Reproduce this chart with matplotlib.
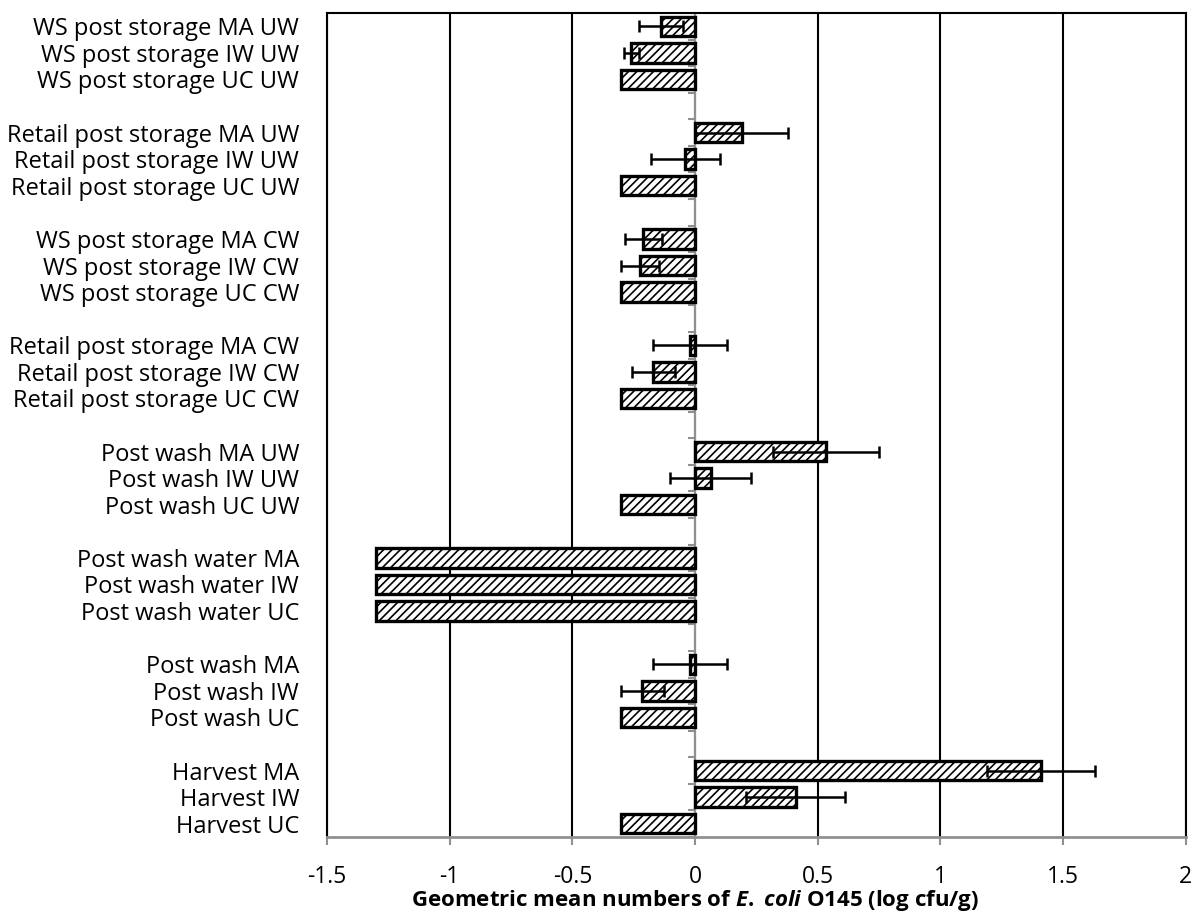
import matplotlib.pyplot as plt
import numpy as np

plt.rcParams['font.family'] = ['Open Sans', 'DejaVu Sans']
plt.rcParams['mathtext.fontset'] = 'custom'
plt.rcParams['mathtext.it'] = 'Open Sans:italic:bold'
plt.rcParams['mathtext.rm'] = 'Open Sans:bold'
plt.rcParams['hatch.linewidth'] = 1.2

# groups from top to bottom, members MA / IW / UC
groups = ["WS post storage", "Retail post storage", "WS post storage", "Retail post storage",
          "Post wash", "Post wash water", "Post wash", "Harvest"]
suffix = [" UW", " UW", " CW", " CW", " UW", "", "", ""]
members = ["MA", "IW", "UC"]

means = [
    [-0.14, -0.26, -0.30],
    [0.19, -0.04, -0.30],
    [-0.21, -0.225, -0.30],
    [-0.02, -0.17, -0.30],
    [0.535, 0.065, -0.30],
    [-1.30, -1.30, -1.30],
    [-0.02, -0.215, -0.30],
    [1.41, 0.41, -0.30],
]
errs = [
    [0.09, 0.03, 0],
    [0.19, 0.14, 0],
    [0.075, 0.077, 0],
    [0.15, 0.087, 0],
    [0.215, 0.165, 0],
    [0, 0, 0],
    [0.15, 0.087, 0],
    [0.22, 0.20, 0],
]

labels = []
vals = []
ers = []
pos = []
n_groups = len(groups)
n_slots = n_groups * 4 - 1
for g in range(n_groups):
    for k in range(3):
        labels.append(groups[g] + " " + members[k] + suffix[g])
        vals.append(means[g][k])
        ers.append(errs[g][k])
        pos.append(n_slots - 1 - (g * 4 + k))
pos = np.array(pos)
vals = np.array(vals)
ers = np.array(ers)

fig = plt.figure(figsize=(12, 9.21), dpi=100)
ax = fig.add_axes([0.2725, 0.0912, 0.988 - 0.2725, 0.9859 - 0.0912])

ax.set_xlim(-1.5, 2)
ax.set_ylim(-0.5, n_slots - 0.5)
ax.set_xticks(np.arange(-1.5, 2.01, 0.5))
ax.set_xticklabels(["-1.5", "-1", "-0.5", "0", "0.5", "1", "1.5", "2"])
ax.xaxis.grid(True, color='black', linewidth=1.5)
ax.set_axisbelow(True)

ax.barh(pos, vals, height=0.73, color='white', edgecolor='black', linewidth=2.4,
        hatch='////', zorder=3)
m = ers > 0
ax.errorbar(vals[m], pos[m], xerr=ers[m], fmt='none', ecolor='black',
            elinewidth=1.8, capsize=4.5, capthick=1.8, zorder=4)

# vertical axis at zero with tick marks between categories
ax.axvline(0, color='#909090', linewidth=1.5, zorder=2)
bounds = np.arange(-0.5, n_slots, 1.0)
ax.hlines(bounds, -0.03, 0, color='#909090', linewidth=1.5, zorder=2)

ax.set_yticks(pos)
ax.set_yticklabels(labels, fontsize=17)
ax.tick_params(axis='y', length=0, pad=20)
ax.tick_params(axis='x', labelsize=16.5, length=6, width=1.5, color='#909090', pad=14)

for s in ['top', 'left', 'right']:
    ax.spines[s].set_color('black')
    ax.spines[s].set_linewidth(1.5)
ax.spines['bottom'].set_color('#909090')
ax.spines['bottom'].set_linewidth(2)

fig.text(0.579, 0.022, r"Geometric mean numbers of $\mathit{E.}$ $\mathit{coli}$ O145 (log cfu/g)",
         fontsize=16, fontweight='bold', ha='center', va='center')

fig.savefig("out.png", dpi=100)
